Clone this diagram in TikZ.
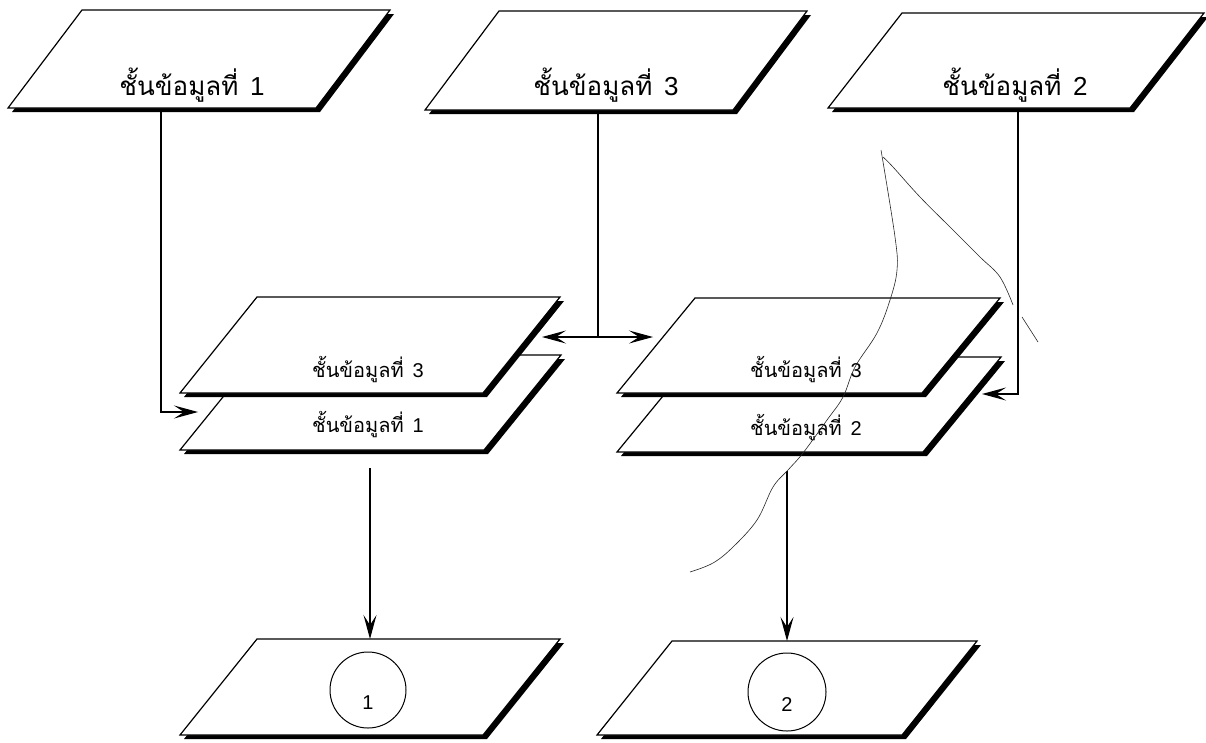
\documentclass[tikz,border=0pt]{standalone}
\usepackage{fontspec}
\newfontfamily\thaifont[Script=Thai]{Loma}
\newfontfamily\numfont{Liberation Sans}
\usetikzlibrary{arrows.meta}

% layer caption: Thai word followed by the layer number
\newcommand\lyr[1]{{\thaifont ชั้นข้อมูลที่}\hspace{0.45em}{\numfont #1}}

% slab: name, bottom-left x, bottom y, width, height, skew
% draws a solid drop shadow, then the white sheet with its corner coordinates
\newcommand\slab[6]{%
  \fill[black] (#2+4,#3+4) -- ++(#4,0) -- ++(#6,-#5) -- ++(-#4,0) -- cycle;
  \draw[sheet] (#2,#3) coordinate (#1-bl) -- ++(#4,0) coordinate (#1-br)
     -- ++(#6,-#5) coordinate (#1-tr) -- ++(-#4,0) coordinate (#1-tl) -- cycle;}

\begin{document}
\begin{tikzpicture}[x=1pt,y=-1pt,
  sheet/.style={line width=1.2pt, fill=white, line join=miter},
  edge/.style={line width=1.2pt},
  tip/.tip={Stealth[length=24pt,width=13pt,inset=10pt]},
  arr/.style={edge,-tip},
  darr/.style={edge,tip-tip},
  toplbl/.style={font=\fontsize{26}{30}\selectfont, anchor=base, inner sep=0pt},
  stklbl/.style={font=\fontsize{20}{24}\selectfont, anchor=base, inner sep=0pt},
  ring/.style={circle, draw, line width=1pt, inner sep=0pt},
  digit/.style={font=\numfont\fontsize{20}{24}\selectfont, anchor=base, inner sep=0pt},
  stroke/.style={line width=0.6pt, black!85}
]
\useasboundingbox (0,0) rectangle (1206,742);

% source layers along the top
\slab{t1}{8}{108}{308}{98}{74}
\slab{t3}{425}{110}{308}{99}{74}
\slab{t2}{828}{108}{302}{95}{74}
\node[toplbl] (t1-lbl) at (192,95) {\lyr{1}};
\node[toplbl] (t3-lbl) at (606,95) {\lyr{3}};
\node[toplbl] (t2-lbl) at (1015,95) {\lyr{2}};

% overlay stacks
\slab{s1b}{180}{450}{304}{95}{77}
\slab{s1a}{180}{393}{303}{96}{77}
\slab{s2b}{617}{452}{306}{95}{78}
\slab{s2a}{617}{393}{305}{95}{78}
\node[stklbl] (s1a-lbl) at (368,377) {\lyr{3}};
\node[stklbl] (s1b-lbl) at (368,432) {\lyr{1}};
\node[stklbl] (s2a-lbl) at (806,377) {\lyr{3}};
\node[stklbl] (s2b-lbl) at (806,435) {\lyr{2}};

% result layers
\slab{o1}{180}{735}{303}{96}{77}
\slab{o2}{597}{735}{305}{94}{75}
\node[ring, minimum size=76pt] (r1) at (368,690) {};
\node[ring, minimum size=78pt] (r2) at (787,692) {};
\node[digit] (d1) at (368,709) {1};
\node[digit] (d2) at (787,711) {2};

% connector end points
\coordinate (t1-out) at (161,112);
\coordinate (s1-in)  at (198,412);
\coordinate (t3-out) at (598,114);
\coordinate (hub)    at (598,337);
\coordinate (s1-side) at (542,337);
\coordinate (s2-side) at (653,337);
\coordinate (t2-out) at (1018,112);
\coordinate (s2-in)  at (982,394);
\coordinate (s1-out) at (370,468);
\coordinate (o1-in)  at (370,639);
\coordinate (s2-out) at (787,471);
\coordinate (o2-in)  at (787,641);

% connectors
\draw[arr] (t1-out) |- (s1-in);
\draw[edge] (t3-out) -- (hub);
\draw[darr] (s1-side) -- (s2-side);
\draw[arr] (t2-out) |- (s2-in);
\draw[arr] (s1-out) -- (o1-in);
\draw[arr] (s2-out) -- (o2-in);

% loose pencil strokes
\draw[stroke] plot[smooth, tension=0.6] coordinates {
  (881,150) (895,237) (897,270) (890,300) (877,333) (855,367) (843,397)
  (827,420) (803,453) (788,470) (773,487) (757,520) (733,547) (713,563) (690,572)};
\draw[stroke] plot[smooth, tension=0.6] coordinates {
  (883,157) (893,167) (920,197) (953,230) (980,257) (1000,277) (1013,305)};
\draw[stroke] (1022,317) -- (1038,342);
\end{tikzpicture}
\end{document}
